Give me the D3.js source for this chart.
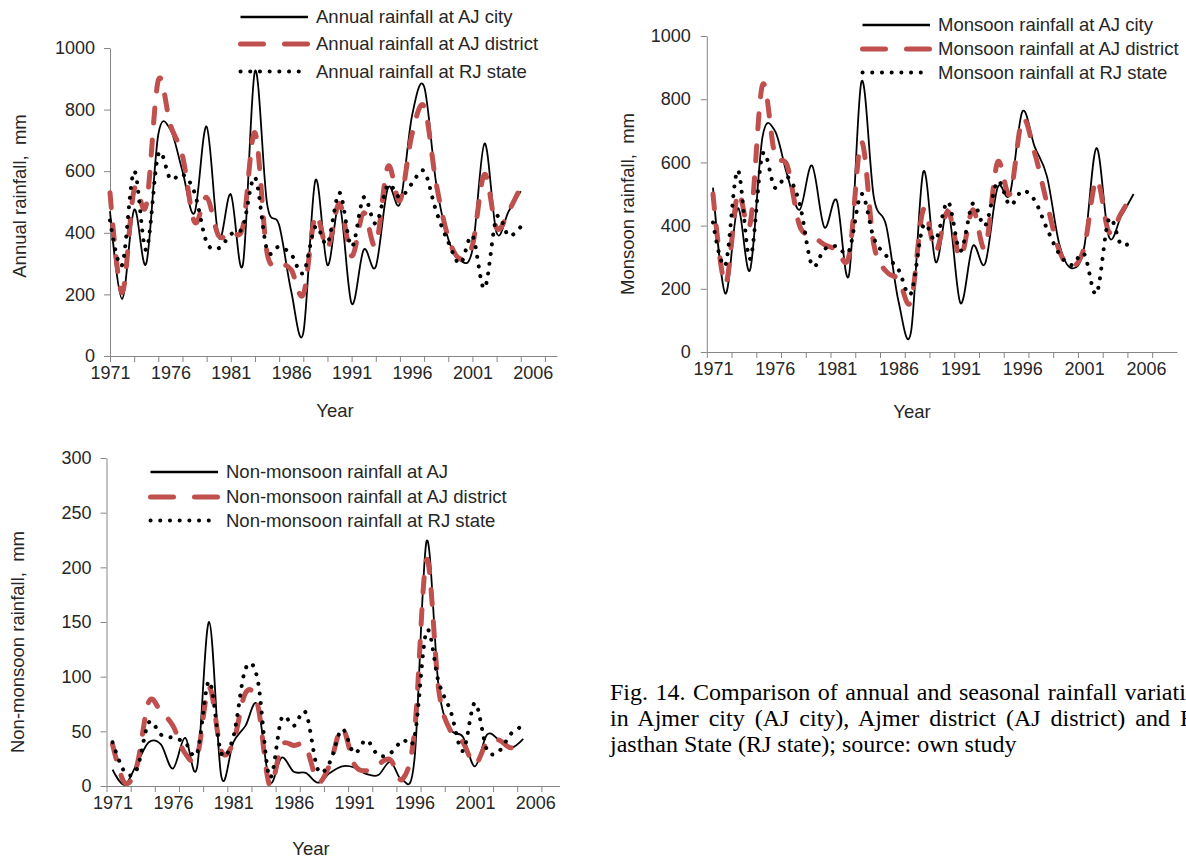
<!DOCTYPE html>
<html lang="en">
<head>
<meta charset="utf-8">
<script src="https://d3js.org/d3.v7.min.js"></script>
<style>
  body { margin: 0; background: #fff; }
  svg text { font-family: "Liberation Sans", Arial, sans-serif; fill: #262626; }
  .caption { font-family: "Liberation Serif", "Times New Roman", serif; fill: #000; font-size: 24px; }
  .axis path, .axis line { stroke: #868686; }
</style>
</head>
<body>
<svg width="1186" height="861"></svg>
<script>
// years of record
var years = [1971,1972,1973,1974,1975,1976,1977,1978,1979,1980,1981,1982,1983,1984,1985,1986,1987,1988,
             1989,1990,1991,1992,1993,1994,1995,1996,1997,1998,1999,2000,2001,2002,2003,2004,2005];
var yearLabels = [1971,1976,1981,1986,1991,1996,2001,2006];

// annual rainfall, mm
var annualCity     = [470,185,475,300,720,735,600,465,745,385,525,297,925,495,425,210,75,570,295,490,170,345,290,545,495,780,875,560,380,310,345,690,400,470,535];
var annualDistrict = [530,205,540,490,895,750,650,435,515,390,405,420,725,335,305,280,200,455,350,495,325,465,360,615,505,720,810,560,385,315,360,590,415,470,550];
var annualState    = [440,295,600,345,655,575,590,530,370,350,395,420,580,345,355,330,270,420,365,530,355,515,430,555,515,560,600,470,370,300,390,220,450,390,420];

// monsoon rainfall, mm
var monsoonCity     = [520,185,455,260,680,700,560,450,590,395,480,245,855,490,400,160,62,570,285,450,155,335,280,520,500,760,650,555,340,265,330,645,365,430,500];
var monsoonDistrict = [500,215,500,405,845,625,590,400,370,340,325,305,665,340,255,230,160,450,320,445,300,450,330,600,500,735,630,470,320,270,330,545,380,440,505];
var monsoonState    = [410,275,575,295,625,520,555,470,275,325,335,320,500,360,305,260,185,400,355,475,320,470,400,540,465,510,480,390,310,275,310,185,420,340,355];

// non-monsoon rainfall, mm
var nonCity     = [15,1,20,40,38,16,44,17,150,9,40,55,74,4,26,13,12,3,12,18,17,11,10,22,5,25,224,90,52,45,18,47,42,35,43];
var nonDistrict = [38,3,18,77,68,55,30,27,90,32,40,85,75,1,37,37,36,4,20,53,20,14,20,24,6,50,207,88,50,40,20,40,42,35,45];
var nonState    = [40,13,15,58,47,44,40,30,96,30,45,107,98,8,62,55,67,15,22,52,30,42,28,30,42,45,142,95,68,32,76,33,32,48,55];

var annualTicks = [0,200,400,600,800,1000];
var nonTicks = [0,50,100,150,200,250,300];

var svg = d3.select("svg");

var styles = [
  { stroke: "#000", width: 1.8, dash: null, legendDash: null, cap: "butt" },
  { stroke: "#C0504D", width: 5, dash: "15 17", legendDash: "23 21", cap: "round" },
  { stroke: "#000", width: 4, dash: "0.1 9.6", legendDash: "0.1 9.6", cap: "round" }
];

function drawPanel(p) {
  var x = d3.scaleLinear().domain(p.xDomain).range(p.xRange);
  var y = d3.scaleLinear().domain(p.yDomain).range(p.yRange);
  var g = svg.append("g");

  // x axis: tick marks every 2 years, labels every 5
  var tickYears = [];
  for (var t = p.xDomain[0]; t <= p.xDomain[1] - 1; t += 2) tickYears.push(t);
  g.append("g").attr("class", "axis")
    .attr("transform", "translate(0," + p.yRange[0] + ")")
    .call(d3.axisBottom(x).tickValues(tickYears).tickFormat("").tickSize(6).tickSizeOuter(0));
  var xl = g.append("g")
    .attr("transform", "translate(0," + p.yRange[0] + ")")
    .call(d3.axisBottom(x).tickValues(yearLabels).tickFormat(d3.format("d")).tickSize(0).tickPadding(10));
  xl.select(".domain").remove();
  xl.selectAll("text").attr("font-size", 18).attr("fill", "#262626");

  var ya = g.append("g").attr("class", "axis")
    .attr("transform", "translate(" + x(p.xDomain[0]) + ",0)")
    .call(d3.axisLeft(y).tickValues(p.yTicks).tickFormat(d3.format("d")).tickSize(6).tickSizeOuter(0).tickPadding(p.yPad));
  ya.selectAll("text").attr("font-size", 18).attr("fill", "#262626");

  // lines
  var line = d3.line()
    .x(function (d, i) { return x(years[i]); })
    .y(function (d) { return y(d); })
    .curve(d3.curveCatmullRom.alpha(0));
  p.series.forEach(function (s, i) {
    var st = styles[i];
    g.append("path")
      .attr("d", line(s))
      .attr("fill", "none")
      .attr("stroke", st.stroke)
      .attr("stroke-width", st.width)
      .attr("stroke-linecap", st.cap)
      .attr("stroke-dasharray", st.dash);
  });

  // legend
  p.legend.forEach(function (txt, i) {
    var st = styles[i];
    var ly = p.legendY[i];
    g.append("line")
      .attr("x1", p.legendX[0]).attr("x2", p.legendX[1])
      .attr("y1", ly).attr("y2", ly)
      .attr("stroke", st.stroke)
      .attr("stroke-width", i == 0 ? 2.5 : st.width)
      .attr("stroke-linecap", st.cap)
      .attr("stroke-dasharray", st.legendDash);
    g.append("text")
      .attr("x", p.legendX[1] + 8).attr("y", ly).attr("dy", "0.35em")
      .attr("font-size", 18.5)
      .text(txt);
  });

  // titles
  g.append("text")
    .attr("transform", "translate(" + p.yTitle[0] + "," + p.yTitle[1] + ") rotate(-90)")
    .attr("text-anchor", "middle")
    .attr("font-size", 18.5)
    .style("white-space", "pre")
    .text(p.yLabel);
  g.append("text")
    .attr("x", p.xTitle[0]).attr("y", p.xTitle[1])
    .attr("text-anchor", "middle")
    .attr("font-size", 18.5)
    .text("Year");
}

drawPanel({
  xDomain: [1971, 2008], xRange: [110, 557],
  yDomain: [0, 1000], yRange: [356, 48], yTicks: annualTicks, yPad: 9,
  series: [annualCity, annualDistrict, annualState],
  legend: ["Annual rainfall at AJ city", "Annual rainfall at AJ district", "Annual rainfall at RJ state"],
  legendX: [240.5, 308], legendY: [17, 44, 71.5],
  yLabel: "Annual rainfall,  mm", yTitle: [26, 196], xTitle: [335, 417]
});

drawPanel({
  xDomain: [1970.5, 2008.5], xRange: [706.8, 1176.9],
  yDomain: [0, 1000], yRange: [352, 36], yTicks: annualTicks, yPad: 10,
  series: [monsoonCity, monsoonDistrict, monsoonState],
  legend: ["Monsoon rainfall at AJ city", "Monsoon rainfall at AJ district", "Monsoon rainfall at RJ state"],
  legendX: [862.5, 930], legendY: [25, 49, 72.5],
  yLabel: "Monsoon rainfall,  mm", yTitle: [634, 204], xTitle: [912, 418]
});

drawPanel({
  xDomain: [1970.5, 2008], xRange: [106.5, 559.5],
  yDomain: [0, 300], yRange: [786, 458], yTicks: nonTicks, yPad: 9,
  series: [nonCity, nonDistrict, nonState],
  legend: ["Non-monsoon rainfall at AJ", "Non-monsoon rainfall at AJ district", "Non-monsoon rainfall at RJ state"],
  legendX: [150.5, 218], legendY: [472, 497, 520.5],
  yLabel: "Non-monsoon rainfall,  mm", yTitle: [24, 642], xTitle: [311, 855]
});

// figure caption (justified lines run past the page edge, as in the source)
var caption = [
  "Fig. 14. Comparison of annual and seasonal rainfall variations",
  "in Ajmer city (AJ city), Ajmer district (AJ district) and Ra-",
  "jasthan State (RJ state); source: own study"
];
var captionSpacing = [1.5, 4, 0];
svg.selectAll(".caption").data(caption).enter().append("text")
  .attr("class", "caption")
  .attr("x", 610)
  .attr("y", function (d, i) { return 700 + i * 26; })
  .style("word-spacing", function (d, i) { return captionSpacing[i] + "px"; })
  .text(function (d) { return d; });
</script>
</body>
</html>
